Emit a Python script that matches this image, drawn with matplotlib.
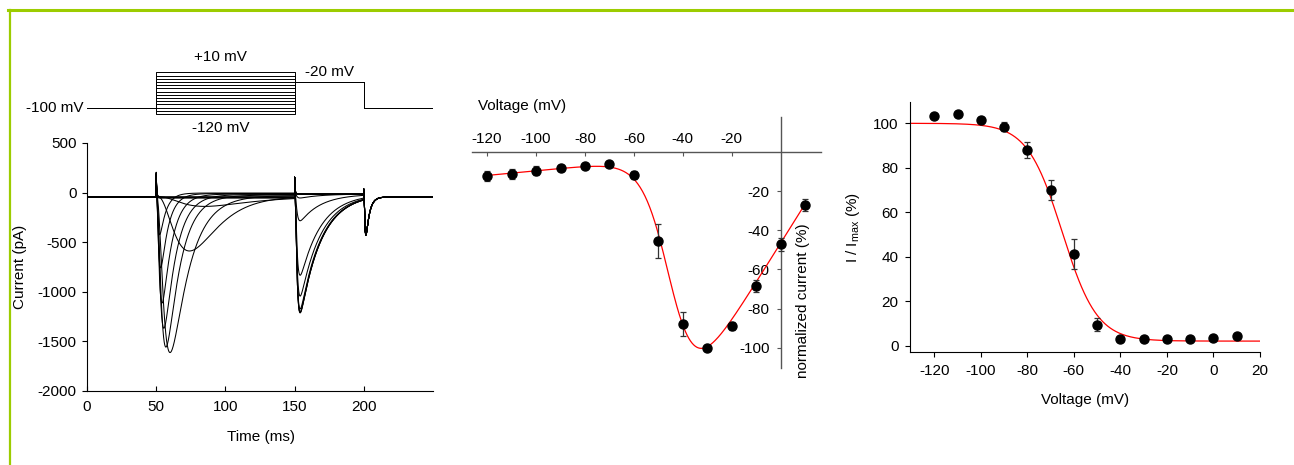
import numpy as np
import matplotlib
matplotlib.use("Agg")
import matplotlib.pyplot as plt
from matplotlib.lines import Line2D

plt.rcParams["font.family"] = ["Liberation Sans", "DejaVu Sans"]
plt.rcParams["font.size"] = 11
plt.rcParams["axes.linewidth"] = 0.8
plt.rcParams["axes.unicode_minus"] = False

W, H = 1294, 465

# --- voltage protocol (mV, ms)
HOLD_MV = -100
TEST_MV = -20
PREPULSE_MV = [-120, -110, -100, -90, -80, -70, -60, -50, -40, -30, -20, -10, 0, 10]
STEP_MS = [50, 150, 200]
END_MS = 250

# --- current traces, one entry per prepulse (pA, ms)
BASE_PA = -45
P1_BASE_PA = [-55, -52, -50, -48, -46, -44, -40, -35, -30, -25, -20, -15, -10, -5]
P1_PEAK_PA = [0, 0, 0, 0, 0, 0, -100, -555, -1585, -1535, -1350, -1100, -750, -420]
P1_PEAK_MS = [0, 0, 0, 0, 0, 0, 85, 74, 60, 57, 55.5, 54.2, 53.2, 52.5]
P1_TAU_MS = [1, 1, 1, 1, 1, 1, 30, 17, 13, 10, 8.5, 7, 5.5, 4.5]
P2_BASE_PA = -15
P2_PEAK_PA = [-1195, -1200, -1190, -1160, -1030, -820, -270, -40, 0, 0, 0, 0, 0, 0]
P2_PEAK_MS = 154
P2_TAU_MS = 15
TAIL_PEAK_PA = -385
TAIL_PEAK_MS = 201.5
TAIL_TAU_MS = 2.5
SPIKE_PA = [210, 170, 80]

# --- I-V relation (normalized current, %)
IV_MV = [-120, -110, -100, -90, -80, -70, -60, -50, -40, -30, -20, -10, 0, 10]
IV_PCT = [-12.3, -11.2, -9.5, -8.2, -7.3, -6.1, -11.8, -45.5, -88, -100, -89, -68.5, -47.2, -27]
IV_ERR = [2.5, 2.5, 2.5, 1.5, 1.0, 1.0, 2.0, 8.7, 6.0, 0.5, 2.0, 3.0, 3.5, 3.0]
IV_FIT = dict(g=1.88, erev=26.0, vh=-44.5, k=5.5, leak=0.12, vleak=-20.0)

# --- steady-state inactivation (I/Imax, %)
INACT_MV = [-120, -110, -100, -90, -80, -70, -60, -50, -40, -30, -20, -10, 0, 10]
INACT_PCT = [103.2, 104.3, 101.6, 98.5, 88.0, 70.2, 41.5, 9.6, 3.2, 3.0, 3.2, 3.0, 3.8, 4.5]
INACT_ERR = [1.0, 0.8, 1.3, 2.0, 3.8, 4.5, 6.7, 2.8, 0.6, 0.6, 0.6, 0.6, 0.8, 1.0]
INACT_FIT = dict(top=100.0, bottom=2.2, v50=-65.0, k=7.5)


def kinetic(t, onset, peak_time, tau_h):
    # m^3 h shape scaled to 1 at its peak; tau_m chosen to hit peak_time
    tpk = peak_time - onset
    lo, hi = 1e-4, 10 * tpk
    for _ in range(80):
        tm = 0.5 * (lo + hi)
        if tm * np.log(1 + 3 * tau_h / tm) < tpk:
            lo = tm
        else:
            hi = tm
    shape = lambda x: (1 - np.exp(-x / tm)) ** 3 * np.exp(-x / tau_h)
    dt = np.clip(t - onset, 0, None)
    return shape(dt) / shape(tpk)


fig = plt.figure(figsize=(W / 100, H / 100), dpi=100)

# green frame
fig.add_artist(Line2D([8 / W, 1], [1 - 10 / H] * 2, transform=fig.transFigure,
                      color="#9ccc00", lw=2.2))
fig.add_artist(Line2D([9.5 / W] * 2, [0, 1 - 10 / H], transform=fig.transFigure,
                      color="#9ccc00", lw=1.6))

# ---------- protocol ----------
axp = fig.add_axes([87 / W, 1 - 135 / H, 346 / W, 90 / H])
axp.set_xlim(0, END_MS)
axp.set_ylim(-185.5, 95.5)
axp.axis("off")
for v in PREPULSE_MV:
    axp.plot([0, STEP_MS[0], STEP_MS[0], STEP_MS[1], STEP_MS[1], STEP_MS[2], STEP_MS[2], END_MS],
             [HOLD_MV, HOLD_MV, v, v, TEST_MV, TEST_MV, HOLD_MV, HOLD_MV],
             color="black", lw=0.7)
axp.text(96.5, 58, "+10 mV", ha="center", va="center")
axp.text(96.5, -163.7, "-120 mV", ha="center", va="center")
axp.text(175, 11, "-20 mV", ha="center", va="center")
axp.text(-2.5, HOLD_MV, "-100 mV", ha="right", va="center")

# ---------- current traces ----------
ax1 = fig.add_axes([87 / W, 1 - 390.7 / H, 346 / W, 247.7 / H])
t = np.arange(0, END_MS, 0.05)
p1 = (t >= STEP_MS[0]) & (t < STEP_MS[1])
p2 = (t >= STEP_MS[1]) & (t < STEP_MS[2])
for i, v in enumerate(PREPULSE_MV):
    cur = np.full_like(t, float(BASE_PA))
    cur[p1] = P1_BASE_PA[i]
    cur[p2] = P2_BASE_PA
    if P1_PEAK_PA[i]:
        cur += P1_PEAK_PA[i] * kinetic(t, STEP_MS[0], P1_PEAK_MS[i], P1_TAU_MS[i]) * p1
    if P2_PEAK_PA[i]:
        cur += P2_PEAK_PA[i] * kinetic(t, STEP_MS[1], P2_PEAK_MS, P2_TAU_MS) * p2
    cur += TAIL_PEAK_PA * kinetic(t, STEP_MS[2], TAIL_PEAK_MS, TAIL_TAU_MS)
    for ts, amp in zip(STEP_MS, SPIKE_PA):
        cur += amp * np.exp(-np.clip(t - ts, 0, None) / 0.35) * (t >= ts)
    ax1.plot(t, cur, color="black", lw=0.75)
ax1.set_xlim(0, END_MS)
ax1.set_ylim(-2000, 500)
ax1.set_xticks([0, 50, 100, 150, 200])
ax1.set_yticks([-2000, -1500, -1000, -500, 0, 500])
ax1.spines[["top", "right"]].set_visible(False)
ax1.tick_params(axis="x", direction="in", length=3.5, pad=7)
ax1.tick_params(axis="y", direction="out", length=3.5, pad=4)
fig.text(20 / W, 1 - 267 / H, "Current (pA)", rotation=90, ha="center", va="center")
fig.text(260.7 / W, 1 - 437 / H, "Time (ms)", ha="center", va="center")

# ---------- I-V ----------
ax2 = fig.add_axes([471.7 / W, 1 - 367.7 / H, 349.3 / W, 251 / H])
vv = np.linspace(-120, 10, 400)
f = IV_FIT
iv_curve = (f["g"] * (vv - f["erev"]) / (1 + np.exp((f["vh"] - vv) / f["k"]))
            + f["leak"] * (vv - f["vleak"]))
ax2.plot(vv, iv_curve, color="red", lw=0.9, zorder=2)
ax2.errorbar(IV_MV, IV_PCT, yerr=IV_ERR, fmt="o", color="black", ms=6.5,
             ecolor="#333333", elinewidth=0.9, capsize=2.5, capthick=0.9, zorder=3)
ax2.set_xlim(-126.3, 16.45)
ax2.set_ylim(-110.2, 18)
ax2.spines[["right", "bottom"]].set_visible(False)
ax2.spines["top"].set_position(("data", 0))
ax2.spines["left"].set_position(("data", 0))
for s in ["top", "left"]:
    ax2.spines[s].set_color("#555555")
    ax2.spines[s].set_linewidth(1.0)
ax2.xaxis.tick_top()
ax2.set_xticks([-120, -100, -80, -60, -40, -20])
ax2.set_yticks([-20, -40, -60, -80, -100])
ax2.tick_params(axis="x", direction="in", length=3, pad=4, color="#555555")
ax2.tick_params(axis="y", direction="out", length=3, pad=5, color="#555555")
fig.text(478 / W, 1 - 106 / H, "Voltage (mV)", ha="left", va="center")
fig.text(803 / W, 1 - 301 / H, "normalized current (%)", rotation=90, ha="center", va="center")

# ---------- inactivation ----------
ax3 = fig.add_axes([910.3 / W, 1 - 351.7 / H, 349.7 / W, 250 / H])
vv = np.linspace(-130, 20, 400)
f = INACT_FIT
inact_curve = f["bottom"] + (f["top"] - f["bottom"]) / (1 + np.exp((vv - f["v50"]) / f["k"]))
ax3.plot(vv, inact_curve, color="red", lw=0.9, zorder=2)
ax3.errorbar(INACT_MV, INACT_PCT, yerr=INACT_ERR, fmt="o", color="black", ms=6.5,
             ecolor="#333333", elinewidth=0.9, capsize=2.5, capthick=0.9, zorder=3)
ax3.set_xlim(-130.3, 20)
ax3.set_ylim(-2.56, 109.7)
ax3.set_xticks(range(-120, 21, 20))
ax3.set_yticks(range(0, 101, 20))
ax3.spines[["top", "right"]].set_visible(False)
ax3.tick_params(direction="out", length=3.5, pad=5)
fig.text(853 / W, 1 - 228 / H, "I / I$_\\mathregular{max}$ (%)", rotation=90,
         ha="center", va="center")
fig.text(1085 / W, 1 - 400 / H, "Voltage (mV)", ha="center", va="center")

fig.savefig("out.png", dpi=100)
